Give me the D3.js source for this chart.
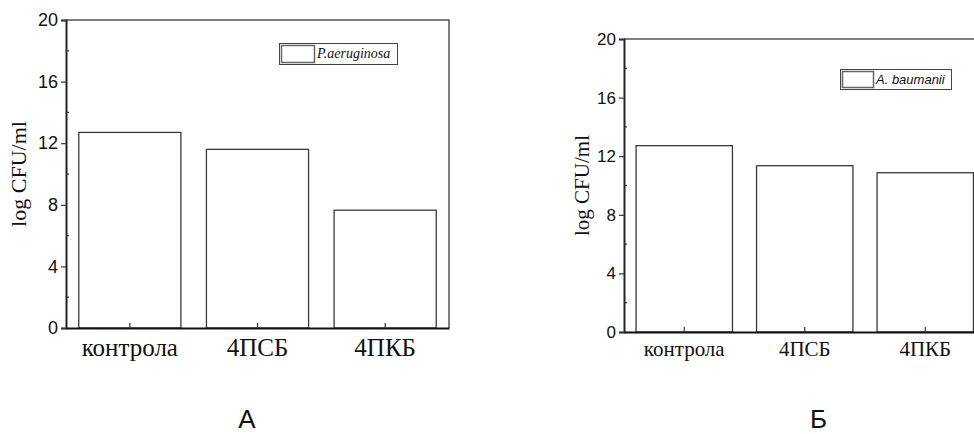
<!DOCTYPE html>
<html>
<head>
<meta charset="utf-8">
<script src="https://cdn.jsdelivr.net/npm/d3@7/dist/d3.min.js"></script>
<style>
  html, body { margin: 0; padding: 0; background: #fff; }
  svg { display: block; }
</style>
</head>
<body>
<svg id="chart" width="974" height="434"></svg>
<script>
// Bacterial counts after treatment, log CFU/ml
const categories = ["контрола", "4ПСБ", "4ПКБ"];
const paeruginosaValues = [12.7, 11.6, 7.65];
const abaumaniiValues = [12.72, 11.35, 10.87];
const yTicks = [0, 4, 8, 12, 16, 20];
const yMinorTicks = [2, 6, 10, 14, 18];
const panelLetters = ["А", "Б"];
const speciesNames = ["P.aeruginosa", "A. baumanii"];

const SERIF = "'Liberation Serif', 'Times New Roman', 'DejaVu Serif', serif";
const SANS = "'Liberation Sans', Arial, 'DejaVu Sans', sans-serif";

const svg = d3.select("#chart");

const panels = [
  {
    values: paeruginosaValues,
    species: speciesNames[0],
    letter: panelLetters[0],
    x0: 66, x1: 449, yTop: 20, yBottom: 328,
    tickFont: 18, catFont: 25, labelFont: 22,
    yLabelX: 26,
    legend: { x: 279, y: 43, w: 118, h: 21, sw: 33, font: SERIF, size: 14 },
    letterX: 247
  },
  {
    values: abaumaniiValues,
    species: speciesNames[1],
    letter: panelLetters[1],
    x0: 624, x1: 985.5, yTop: 39, yBottom: 332,
    tickFont: 17, catFont: 21, labelFont: 21,
    yLabelX: 589,
    legend: { x: 840, y: 69, w: 111, h: 20, sw: 31, font: SANS, size: 13 },
    letterX: 818.5
  }
];

panels.forEach(p => {
  const g = svg.append("g");

  const x = d3.scaleBand()
    .domain(categories)
    .range([p.x0, p.x1])
    .paddingInner(0.2)
    .paddingOuter(0.1);

  const y = d3.scaleLinear()
    .domain([0, 20])
    .range([p.yBottom, p.yTop]);

  // frame: top and right edges
  g.append("path")
    .attr("d", `M${p.x0},${p.yTop}H${p.x1}V${p.yBottom}`)
    .attr("fill", "none")
    .attr("stroke", "#555")
    .attr("stroke-width", 1.5);

  // bars
  g.selectAll("rect.bar")
    .data(p.values)
    .join("rect")
    .attr("class", "bar")
    .attr("x", (d, i) => x(categories[i]))
    .attr("y", d => y(d))
    .attr("width", x.bandwidth())
    .attr("height", d => y(0) - y(d))
    .attr("fill", "#fff")
    .attr("stroke", "#3a3a3a")
    .attr("stroke-width", 1.3);

  // y axis
  const yAxis = d3.axisLeft(y)
    .tickValues(yTicks)
    .tickSize(5)
    .tickPadding(3)
    .tickFormat(d3.format("d"));
  const ya = g.append("g")
    .attr("transform", `translate(${p.x0},0)`)
    .call(yAxis)
    .attr("font-family", SANS)
    .attr("font-size", p.tickFont);
  ya.select(".domain").attr("stroke", "#222").attr("stroke-width", 2);
  ya.selectAll(".tick line").attr("stroke", "#333").attr("stroke-width", 1.2);
  ya.selectAll(".tick text").attr("fill", "#111");

  // minor ticks pointing inward
  g.selectAll("line.minor")
    .data(yMinorTicks)
    .join("line")
    .attr("class", "minor")
    .attr("x1", p.x0)
    .attr("x2", p.x0 + 3)
    .attr("y1", d => y(d))
    .attr("y2", d => y(d))
    .attr("stroke", "#333")
    .attr("stroke-width", 1.2);

  // x axis with inward ticks
  const xAxis = d3.axisBottom(x)
    .tickSize(-5)
    .tickPadding(0)
    .tickSizeOuter(0);
  const xa = g.append("g")
    .attr("transform", `translate(0,${p.yBottom})`)
    .call(xAxis)
    .attr("font-family", SERIF)
    .attr("font-size", p.catFont);
  xa.select(".domain").attr("stroke", "#111").attr("stroke-width", 2);
  xa.selectAll(".tick line").attr("stroke", "#333").attr("stroke-width", 1.2);
  xa.selectAll(".tick text")
    .attr("fill", "#111")
    .attr("dy", null)
    .attr("y", 356 - p.yBottom);

  // y axis title
  g.append("text")
    .attr("transform", `translate(${p.yLabelX},${(p.yTop + p.yBottom) / 2}) rotate(-90)`)
    .attr("text-anchor", "middle")
    .attr("font-family", SERIF)
    .attr("font-size", p.labelFont)
    .attr("fill", "#111")
    .text("log CFU/ml");

  // legend
  const L = p.legend;
  const lg = g.append("g");
  lg.append("rect")
    .attr("x", L.x + 0.5).attr("y", L.y + 0.5)
    .attr("width", L.w).attr("height", L.h)
    .attr("fill", "#fff")
    .attr("stroke", "#444")
    .attr("stroke-width", 1);
  lg.append("rect")
    .attr("x", L.x + 2.5).attr("y", L.y + 2.5)
    .attr("width", L.sw).attr("height", L.h - 4)
    .attr("fill", "#fff")
    .attr("stroke", "#666")
    .attr("stroke-width", 1.5);
  lg.append("text")
    .attr("x", L.x + L.sw + 5)
    .attr("y", L.y + L.h / 2 + L.size * 0.35)
    .attr("font-family", L.font)
    .attr("font-style", "italic")
    .attr("font-size", L.size)
    .attr("fill", "#111")
    .text(p.species);

  // panel letter
  g.append("text")
    .attr("x", p.letterX)
    .attr("y", 428)
    .attr("text-anchor", "middle")
    .attr("font-family", SANS)
    .attr("font-size", 26)
    .attr("fill", "#111")
    .text(p.letter);
});
</script>
</body>
</html>
